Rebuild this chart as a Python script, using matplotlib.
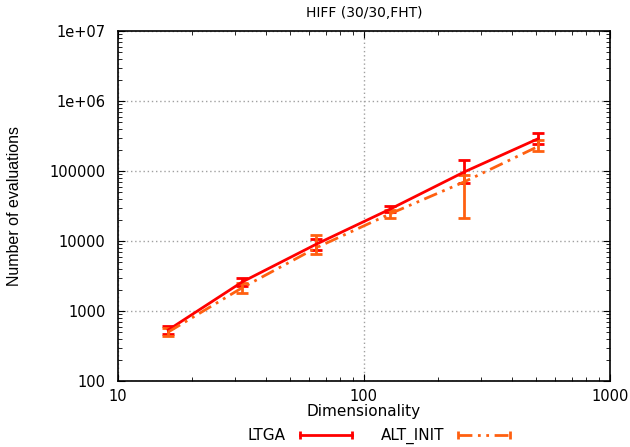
import matplotlib
matplotlib.use("Agg")
import matplotlib.pyplot as plt
from matplotlib.lines import Line2D
from matplotlib.ticker import FuncFormatter, LogLocator

plt.rcParams['font.family'] = ['DejaVu Sans']

# data
dims = [16, 32, 64, 128, 256, 512]

ltga = [535, 2600, 9000, 28600, 97000, 290000]
ltga_lo = [470, 2250, 7500, 26000, 68000, 240000]
ltga_hi = [620, 3000, 10500, 32000, 143000, 345000]

alt = [500, 2150, 8000, 24500, 70000, 225000]
alt_lo = [440, 1800, 6500, 21500, 21000, 195000]
alt_hi = [580, 2500, 12000, 27500, 88000, 275000]

red = '#ff0000'
orange = '#ff6010'
alt_ls = (0, (5, 2, 1, 2, 1, 2))

fig = plt.figure(figsize=(6.3, 4.47), dpi=100)
ax = fig.add_axes([0.1873, 0.1477, 0.7807, 0.783])

ax.errorbar(dims, ltga,
            yerr=[[v - l for v, l in zip(ltga, ltga_lo)], [h - v for v, h in zip(ltga, ltga_hi)]],
            color=red, lw=2, capsize=4, capthick=2, elinewidth=2)
ax.errorbar(dims, alt,
            yerr=[[v - l for v, l in zip(alt, alt_lo)], [h - v for v, h in zip(alt, alt_hi)]],
            color=orange, lw=2, ls=alt_ls, capsize=4, capthick=2, elinewidth=2)

ax.set_xscale('log')
ax.set_yscale('log')
ax.set_xlim(10, 1000)
ax.set_ylim(100, 1e7)

fmt = FuncFormatter(lambda v, p: '%g' % v)
ax.xaxis.set_major_formatter(fmt)
ax.yaxis.set_major_formatter(fmt)
ax.xaxis.set_minor_locator(LogLocator(subs=range(2, 10)))
ax.yaxis.set_minor_locator(LogLocator(subs=range(2, 10)))
ax.xaxis.set_minor_formatter(plt.NullFormatter())
ax.yaxis.set_minor_formatter(plt.NullFormatter())

ax.tick_params(which='both', direction='in', top=True, right=True, labelsize=10.5)
ax.tick_params(which='major', length=5)
ax.tick_params(which='minor', length=3)
ax.tick_params(axis='x', pad=6)
ax.tick_params(axis='y', pad=9)
ax.grid(True, which='major', color='#a0a0a0', ls=(0, (1, 2)), lw=1)
for s in ax.spines.values():
    s.set_linewidth(1.2)

ax.set_title('HIFF (30/30,FHT)', fontsize=10, pad=10)
ax.set_xlabel('Dimensionality', fontsize=11, labelpad=0)
ax.set_ylabel('Number of evaluations', fontsize=11.5, labelpad=20,
              family=['Liberation Sans Narrow', 'Liberation Sans', 'DejaVu Sans'])

handles = [
    Line2D([0], [0], color=red, lw=2, marker='|', ms=6, mew=2),
    Line2D([0], [0], color=orange, lw=2, ls=alt_ls, marker='|', ms=6, mew=2),
]
fig.legend(handles, ['LTGA', 'ALT_INIT'], loc='lower center', bbox_to_anchor=(0.605, -0.025),
           ncol=2, frameon=False, markerfirst=False, numpoints=2, fontsize=11,
           handlelength=4, handletextpad=0.6, columnspacing=1.6)

fig.savefig('out.png', dpi=100)
